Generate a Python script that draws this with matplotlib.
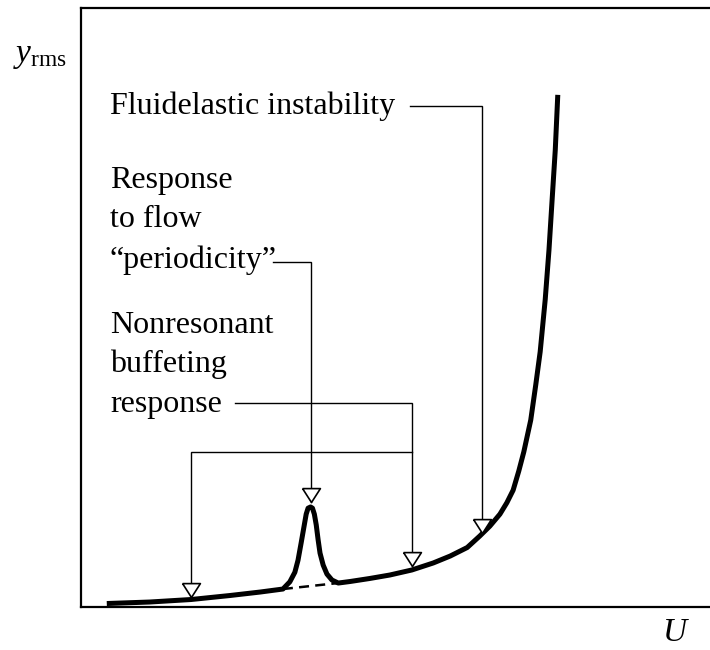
import matplotlib
matplotlib.use("Agg")
import matplotlib.pyplot as plt

# ---------------- data (U, y_rms in arbitrary units) ----------------
# solid response curve: buffeting baseline, vortex peak, fluidelastic rise
curve_u = [4.1, 10.9, 17.5, 23.7, 28.5, 32.1,
           33.2, 34.0, 34.5, 35.0, 35.5, 35.8, 36.1, 36.5, 36.8, 37.1,
           37.4, 37.7, 38.0, 38.5, 39.1, 39.9, 40.9,
           42.8, 45.9, 49.1, 52.6, 56.0, 58.7, 61.4, 63.4, 65.0, 66.6,
           67.7, 68.7, 69.6, 70.4, 71.5, 72.3, 73.0, 73.8, 74.4, 74.9,
           75.4, 75.8]
curve_y = [0.58, 0.83, 1.25, 1.92, 2.5, 3.0,
           4.2, 5.8, 7.8, 10.7, 13.7, 15.5, 16.5, 16.7, 16.5, 15.5,
           13.7, 11.2, 9.0, 7.0, 5.5, 4.5, 4.0,
           4.26, 4.76, 5.34, 6.18, 7.35, 8.51, 9.93, 11.85, 13.5, 15.5,
           17.4, 19.5, 22.7, 25.9, 31.2, 37.1, 42.6, 51.3, 59.6, 68.0,
           76.3, 85.5]

# dashed baseline under the peak
dash_u = [32.1, 40.9]
dash_y = [3.0, 4.0]

# arrow tips (open triangles)
tip_u = [17.5, 36.5, 52.6, 63.7]
tip_y = [1.7, 17.5, 6.8, 12.3]

# leader lines
fluid_u = [52.3, 63.7, 63.7]
fluid_y = [83.6, 83.6, 12.3]
period_u = [30.5, 36.5, 36.5]
period_y = [57.6, 57.6, 17.5]
buffet_u = [24.5, 52.6, 52.6]
buffet_y = [34.1, 34.1, 6.8]
bracket_u = [17.5, 17.5, 52.6]
bracket_y = [1.7, 25.9, 25.9]

labels = ["Fluidelastic instability", "Response", "to flow",
          "\u201cperiodicity\u201d", "Nonresonant", "buffeting", "response"]
label_y = [82.3, 69.95, 63.4, 56.6, 45.7, 39.2, 32.55]

# ---------------- style ----------------
plt.rcParams["font.family"] = ["Liberation Serif", "DejaVu Serif"]
plt.rcParams["mathtext.fontset"] = "custom"
plt.rcParams["mathtext.rm"] = "Liberation Serif"
plt.rcParams["mathtext.it"] = "Liberation Serif:italic"

fig = plt.figure(figsize=(7.1, 6.5), dpi=100)
ax = fig.add_axes([81 / 710, 1 - 607 / 650, 1 - 81 / 710, 599 / 650])
ax.set_xlim(0, 100)
ax.set_ylim(0, 100)
ax.set_xticks([])
ax.set_yticks([])
ax.spines["right"].set_visible(False)
for s in ["left", "top", "bottom"]:
    ax.spines[s].set_linewidth(1.6)

# ---------------- marks ----------------
lw_thin = 1.0
for uu, yy in [(fluid_u, fluid_y), (period_u, period_y),
               (buffet_u, buffet_y), (bracket_u, bracket_y)]:
    ax.plot(uu, yy, color="black", lw=lw_thin, solid_joinstyle="miter", zorder=2)

ax.plot(dash_u, dash_y, color="black", lw=1.8, ls=(0, (4, 2.5)), zorder=3)
ax.plot(curve_u, curve_y, color="black", lw=3.6,
        solid_joinstyle="round", solid_capstyle="butt", zorder=4)

# open downward triangle with its tip at the data point
tri = [(-1, 1.56), (1, 1.56), (0, 0), (-1, 1.56)]
ax.plot(tip_u, tip_y, ls="none", marker=tri, markersize=20,
        markerfacecolor="white", markeredgecolor="black",
        markeredgewidth=1.2, zorder=5)

for txt, yy in zip(labels, label_y):
    ax.text(4.6, yy, txt, fontsize=23, ha="left", va="baseline")

# axis labels outside the frame
fig.text(13 / 710, 1 - 62 / 650, r"$y_{\rm rms}$", fontsize=24,
         ha="left", va="baseline")
fig.text(676 / 710, 1 - 641 / 650, r"$U$", fontsize=24,
         ha="center", va="baseline")

fig.savefig("out.png", dpi=100)
